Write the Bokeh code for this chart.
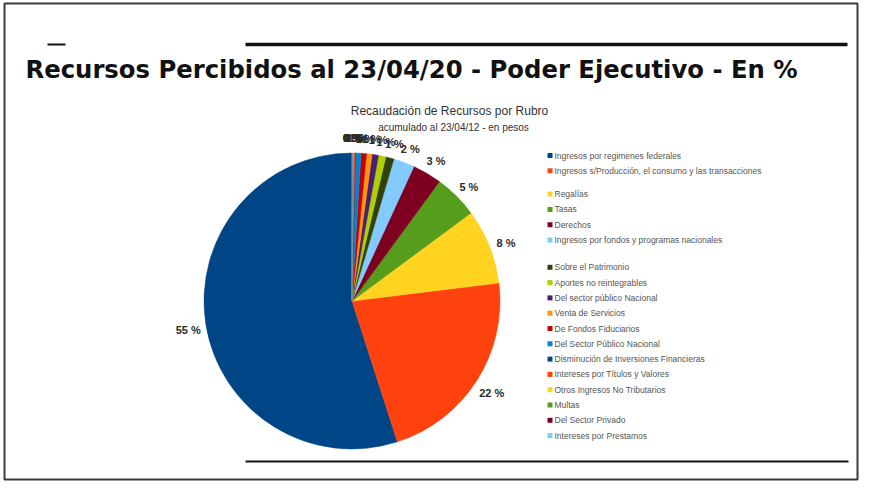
import numpy as np
from bokeh.plotting import figure
from bokeh.models import Range1d, ColumnDataSource
from bokeh.core.properties import value
from bokeh.embed import file_html
from bokeh.resources import INLINE

# ---- data ----
titulo = "Recursos Percibidos al 23/04/20 - Poder Ejecutivo - En %"
titulo_grafico = "Recaudación de Recursos por Rubro"
subtitulo_grafico = "acumulado al 23/04/12 - en pesos"

rubros = [
    "Ingresos por regimenes federales",
    "Ingresos s/Producción, el consumo y las transacciones",
    "Regalías",
    "Tasas",
    "Derechos",
    "Ingresos por fondos y programas nacionales",
    "Sobre el Patrimonio",
    "Aportes no reintegrables",
    "Del sector público Nacional",
    "Venta de Servicios",
    "De Fondos Fiduciarios",
    "Del Sector Público Nacional",
    "Disminución de Inversiones Financieras",
    "Intereses por Títulos y Valores",
    "Otros Ingresos No Tributarios",
    "Multas",
    "Del Sector Privado",
    "Intereses por Prestamos",
]
valores = [55.0, 22.0, 8.2, 4.8, 3.2, 2.3, 0.9, 0.8, 0.7, 0.6, 0.6, 0.6,
           0.05, 0.2, 0.05, 0.03, 0.02, 0.02]
colores = ["#004586", "#ff420e", "#ffd320", "#579d1c", "#7e0021", "#83caff",
           "#314004", "#aecf00", "#4b1f6f", "#ff950e", "#c5000b", "#0084d1",
           "#004586", "#ff420e", "#ffd320", "#579d1c", "#7e0021", "#83caff"]

# ---- layout (data units == screen pixels; y measured upward) ----
W, H = 859, 481
PAGE_H = 497


def Y(ref_y):
    return PAGE_H - ref_y


p = figure(width=W, height=H, output_backend="svg", toolbar_location=None,
           x_range=Range1d(0, W), y_range=Range1d(PAGE_H - H, PAGE_H),
           min_border=0, min_border_left=0, min_border_right=0,
           min_border_top=0, min_border_bottom=0)
p.axis.visible = False
p.grid.visible = False
p.outline_line_color = None
p.background_fill_color = "white"
p.border_fill_color = "white"

# frame border
p.quad(left=[4], right=[W - 2], top=[Y(3)], bottom=[Y(H - 2)],
       fill_color=None, line_color="#3a3a3a", line_width=2)

# decorative rules
p.segment(x0=[47], y0=[Y(44)], x1=[65], y1=[Y(44)], line_color="#111111", line_width=2)
p.segment(x0=[245], y0=[Y(44)], x1=[847], y1=[Y(44)], line_color="#111111", line_width=3.5)
p.segment(x0=[245], y0=[Y(461)], x1=[848], y1=[Y(461)], line_color="#111111", line_width=2)

# slide title
p.text(x=[25], y=[Y(69)], text=[titulo], text_font=value("DejaVu Sans"),
       text_font_style="bold", text_font_size="24.3px", text_color="#111111",
       text_align="left", text_baseline="alphabetic")

# chart titles
p.text(x=[449], y=[Y(110)], text=[titulo_grafico], text_font=value("Liberation Sans"),
       text_font_size="12px", text_color="#333333", text_align="center",
       text_baseline="middle")
p.text(x=[453], y=[Y(127)], text=[subtitulo_grafico], text_font=value("Liberation Sans"),
       text_font_size="10px", text_color="#333333", text_align="center",
       text_baseline="middle")

# pie
cx, cy, R = 351.5, Y(300.5), 148
vals = np.array(valores, dtype=float)
frac = vals / vals.sum()
cum = np.concatenate([[0], np.cumsum(frac)])
start = np.pi / 2 + 2 * np.pi * cum[:-1]
end = np.pi / 2 + 2 * np.pi * cum[1:]
src = ColumnDataSource(dict(start=start, end=end, color=colores))
p.wedge(x=cx, y=cy, radius=R, start_angle="start", end_angle="end",
        direction="anticlock", fill_color="color", line_color="color",
        line_width=0.5, source=src)

mid = (start + end) / 2
d = R * 1.12
lx = cx + d * np.cos(mid)
ly = cy + d * np.sin(mid) - 3
labels = [f"{int(round(v))} %" for v in valores]
p.text(x=lx, y=ly, text=labels, text_font=value("Liberation Sans"),
       text_font_style="bold", text_font_size="11px", text_color="#2a2a2a",
       text_align="center", text_baseline="middle")

# legend
step = 15.3
gaps = [0, 0] + [8] * 4 + [20] * 12
ly_leg = [Y(155 + step * i + gaps[i]) for i in range(len(rubros))]
p.rect(x=[549.5] * len(rubros), y=ly_leg, width=5, height=5,
       fill_color=colores, line_color=None)
p.text(x=[554] * len(rubros), y=ly_leg, text=rubros, text_font=value("Liberation Sans"),
       text_font_size="8.5px", text_color="#555555", text_align="left",
       text_baseline="middle")

open("out.html", "w").write(file_html(p, INLINE))
